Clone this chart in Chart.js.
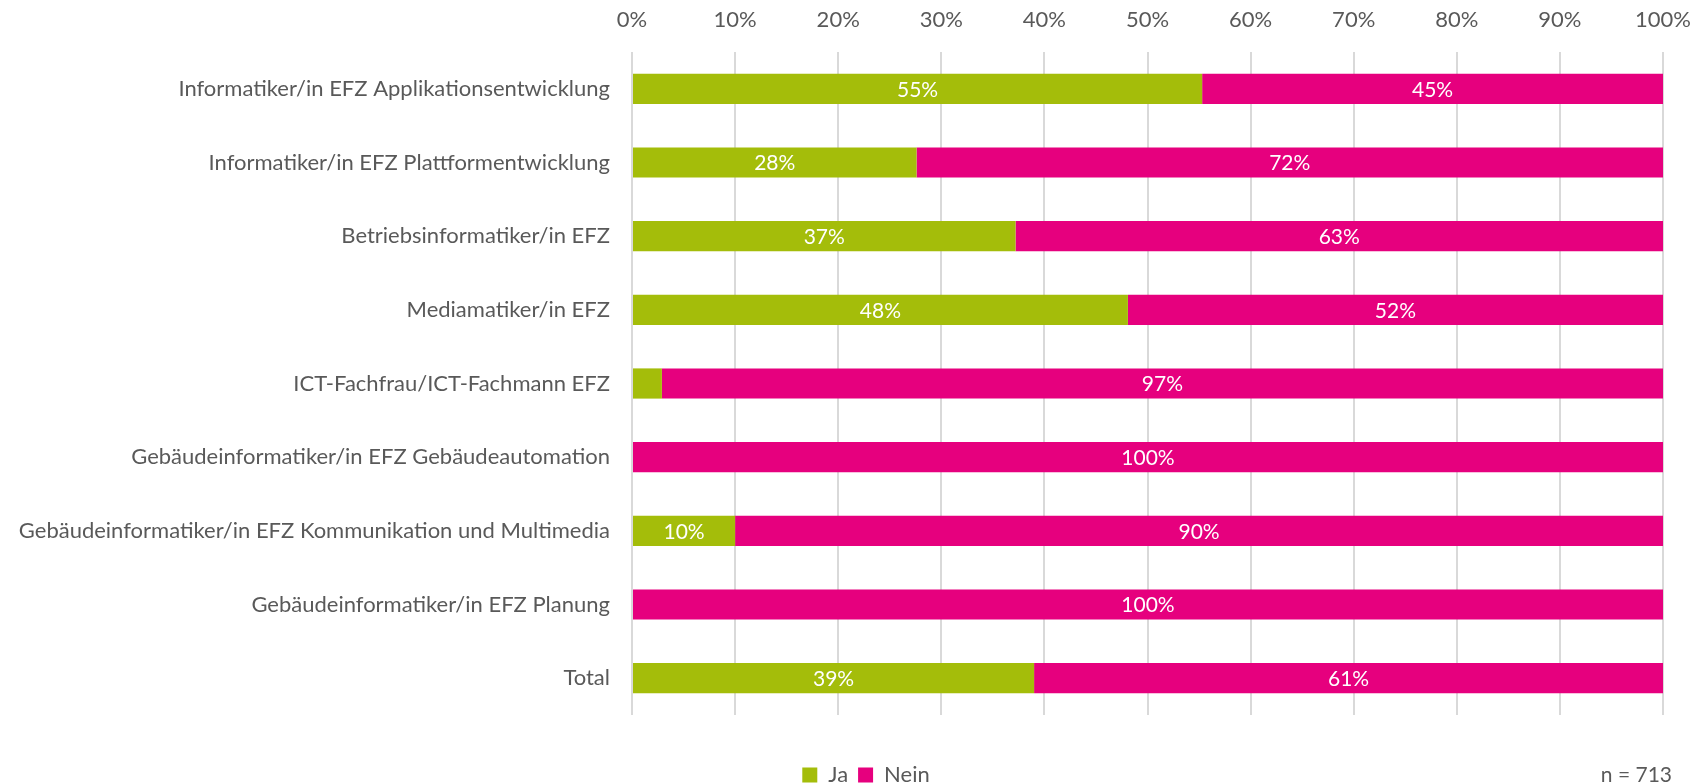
<!DOCTYPE html>
<html>
<head>
<meta charset="utf-8">
<script src="https://cdn.jsdelivr.net/npm/chart.js@4/dist/chart.umd.min.js"></script>
<style>
  html, body { margin: 0; padding: 0; background: #ffffff; }
  #wrap { position: relative; width: 1702px; height: 784px; }
</style>
</head>
<body>
<div id="wrap"><canvas id="c" width="1702" height="784"></canvas></div>
<script>
const categories = [
  "Informatiker/in EFZ Applikationsentwicklung",
  "Informatiker/in EFZ Plattformentwicklung",
  "Betriebsinformatiker/in EFZ",
  "Mediamatiker/in EFZ",
  "ICT-Fachfrau/ICT-Fachmann EFZ",
  "Gebäudeinformatiker/in EFZ Gebäudeautomation",
  "Gebäudeinformatiker/in EFZ Kommunikation und Multimedia",
  "Gebäudeinformatiker/in EFZ Planung",
  "Total"
];
const jaValues   = [55.3, 27.6, 37.2, 48.1, 2.9, 0, 10.0, 0, 39.0];
const neinValues = [44.7, 72.4, 62.8, 51.9, 97.1, 100, 90.0, 100, 61.0];
const seriesNames = ["Ja", "Nein"];
const tickValues = [0, 10, 20, 30, 40, 50, 60, 70, 80, 90, 100];
const noteText = "n = 713";

const FONT = "Lato, 'Open Sans', sans-serif";
const GREY = "#595959";
const LEGEND_CENTER = 871;

const dataLabels = {
  id: 'dataLabels',
  afterDatasetsDraw(chart) {
    const ctx = chart.ctx;
    ctx.save();
    ctx.font = "21px " + FONT;
    ctx.fillStyle = "#ffffff";
    ctx.textAlign = "center";
    ctx.textBaseline = "middle";
    chart.data.datasets.forEach((ds, di) => {
      const meta = chart.getDatasetMeta(di);
      meta.data.forEach((el, i) => {
        const v = ds.data[i];
        if (v >= 5) {
          const p = el.getProps(['x', 'y', 'base'], true);
          ctx.fillText(Math.round(v) + "%", (p.x + p.base) / 2, p.y + 1);
        }
      });
    });
    ctx.restore();
  }
};

const note = {
  id: 'note',
  afterLayout(chart) {
    const l = chart.legend;
    if (l) {
      const s = (LEGEND_CENTER * 2 - 10 - (l.left + l.right)) / 2;
      l.left += s; l.right += s;
    }
  },
  afterDraw(chart) {
    const ctx = chart.ctx;
    ctx.save();
    ctx.font = "21px " + FONT;
    ctx.fillStyle = GREY;
    ctx.textAlign = "right";
    ctx.textBaseline = "middle";
    ctx.fillText(noteText, 1672, 775);
    ctx.restore();
  }
};

new Chart(document.getElementById('c'), {
  type: 'bar',
  data: {
    labels: categories,
    datasets: [
      { label: seriesNames[0], data: jaValues, backgroundColor: "#A4BD0A", barPercentage: 0.41, categoryPercentage: 1 },
      { label: seriesNames[1], data: neinValues, backgroundColor: "#E6007E", barPercentage: 0.41, categoryPercentage: 1 }
    ]
  },
  options: {
    indexAxis: 'y',
    responsive: false,
    animation: false,
    layout: { padding: { left: 0, right: 39, top: 0, bottom: -12 } },
    scales: {
      x: {
        position: 'top',
        stacked: true,
        min: 0, max: 100,
        afterBuildTicks(s) { s.ticks = tickValues.map(v => ({ value: v })); },
        afterFit(s) { s.height = 52; s.paddingLeft = 0; s.paddingRight = 0; },
        ticks: {
          color: GREY,
          font: { family: FONT, size: 22 },
          padding: 19,
          callback: v => v + "%"
        },
        grid: { color: "#d9d9d9", lineWidth: 2, drawTicks: false },
        border: { display: false }
      },
      y: {
        stacked: true,
        afterFit(s) { s.width = 632; },
        ticks: {
          color: GREY,
          font: { family: FONT, size: 22 },
          padding: 22
        },
        grid: { display: false, drawTicks: false },
        border: { display: false }
      }
    },
    plugins: {
      legend: {
        position: 'bottom',
        title: { display: true, text: '', font: { size: 10, lineHeight: 1 }, padding: { top: 29, bottom: 0 } },
        labels: {
          color: GREY,
          font: { family: FONT, size: 22 },
          boxWidth: 15,
          boxHeight: 15,
          padding: 10
        }
      },
      tooltip: { enabled: false }
    }
  },
  plugins: [dataLabels, note]
});
</script>
</body>
</html>
